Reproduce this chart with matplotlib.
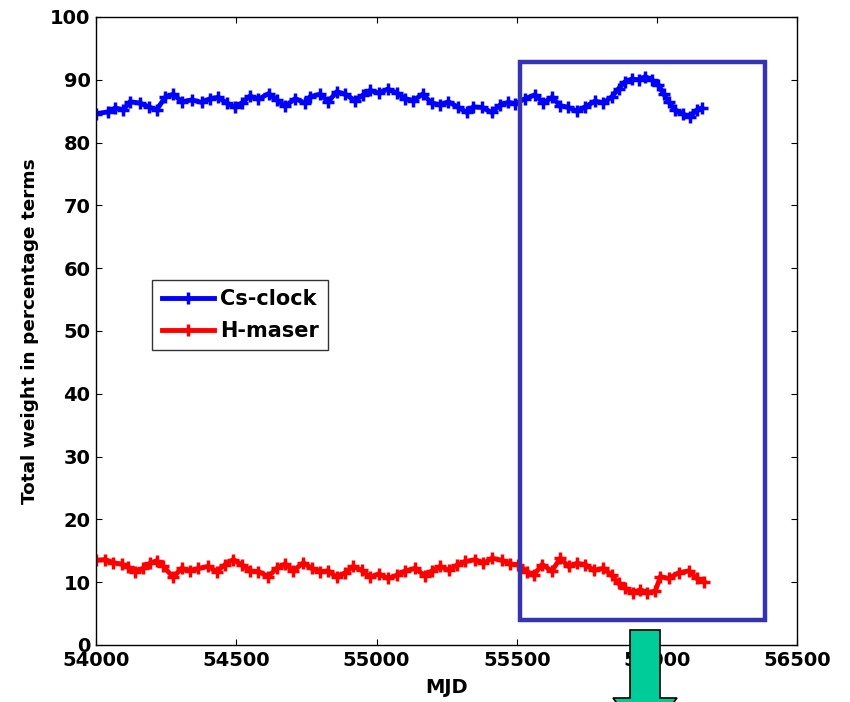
import matplotlib
matplotlib.use("Agg")
import matplotlib.pyplot as plt
from matplotlib.patches import Rectangle, Polygon

plt.rcParams['font.family'] = ['DejaVu Sans']
plt.rcParams['font.weight'] = 'bold'

# Cs-clock total weight (%) vs MJD
cs_mjd = [54000, 54044, 54068, 54097, 54121, 54157, 54187, 54216, 54246, 54276,
          54306, 54341, 54377, 54407, 54436, 54466, 54496, 54519, 54549, 54579,
          54615, 54644, 54674, 54710, 54745, 54763, 54799, 54828, 54858, 54888,
          54923, 54953, 54977, 55007, 55040, 55072, 55102, 55131, 55164, 55197,
          55227, 55256, 55292, 55322, 55345, 55375, 55411, 55441, 55470, 55494,
          55530, 55565, 55595, 55625, 55655, 55684, 55714, 55744, 55779, 55809,
          55839, 55863, 55886, 55910, 55934, 55958, 55981, 56005, 56023, 56041,
          56065, 56094, 56118, 56142, 56160]
cs_w = [84.6, 84.9, 85.5, 85.2, 86.5, 86.3, 85.7, 85.2, 87.2, 87.7,
        86.5, 86.8, 86.4, 87.0, 87.2, 86.3, 85.6, 86.3, 87.4, 86.9,
        87.8, 86.8, 85.8, 87.0, 86.3, 87.3, 87.7, 86.5, 88.1, 87.7,
        86.7, 87.6, 88.3, 87.9, 88.5, 87.9, 87.0, 86.7, 87.7, 86.3,
        86.0, 86.5, 85.6, 84.8, 85.7, 85.6, 84.8, 86.0, 86.4, 86.2,
        87.0, 87.6, 86.3, 87.2, 85.9, 85.6, 85.0, 85.7, 86.6, 86.3,
        87.3, 88.6, 89.7, 90.1, 90.0, 90.5, 90.0, 89.2, 87.8, 86.5,
        85.2, 84.5, 84.1, 85.2, 85.5]

# H-maser total weight (%) vs MJD
hm_mjd = [54000, 54032, 54061, 54091, 54115, 54139, 54168, 54192, 54216, 54240,
          54275, 54305, 54335, 54365, 54400, 54430, 54460, 54489, 54519, 54549,
          54579, 54614, 54644, 54674, 54703, 54739, 54769, 54799, 54828, 54858,
          54888, 54917, 54947, 54977, 55007, 55042, 55072, 55102, 55138, 55173,
          55197, 55227, 55257, 55286, 55316, 55352, 55381, 55411, 55447, 55477,
          55506, 55536, 55560, 55590, 55625, 55655, 55685, 55714, 55744, 55774,
          55809, 55839, 55863, 55887, 55916, 55940, 55964, 55994, 56012, 56041,
          56077, 56113, 56142, 56166]
hm_w = [13.5, 13.6, 13.1, 12.9, 12.4, 11.7, 12.2, 13.0, 13.4, 12.5,
        10.8, 12.2, 11.8, 12.2, 12.5, 11.7, 12.8, 13.6, 12.8, 11.8,
        11.7, 10.9, 12.2, 12.9, 11.8, 13.1, 12.2, 11.7, 11.8, 10.8,
        11.5, 12.5, 11.9, 10.8, 11.3, 10.6, 11.1, 11.8, 12.2, 11.0,
        11.8, 12.5, 11.9, 12.7, 13.3, 13.6, 13.0, 13.8, 13.5, 12.9,
        12.8, 11.7, 11.1, 12.8, 11.8, 13.8, 12.5, 13.0, 12.8, 11.9,
        12.2, 11.1, 9.8, 9.0, 8.3, 8.8, 8.3, 8.6, 10.9, 10.6,
        11.5, 11.8, 10.6, 10.1]

fig = plt.figure(figsize=(8.5, 7.02), dpi=100)
ax = fig.add_axes([0.113, 0.0812, 0.825, 0.8946])

ax.plot(cs_mjd, cs_w, color='#0000ff', lw=3.5, marker='+', ms=9, mew=2.5, label='Cs-clock')
ax.plot(hm_mjd, hm_w, color='#ff0000', lw=3.5, marker='+', ms=9, mew=2.5, label='H-maser')

# highlighted region
ax.add_patch(Rectangle((55512, 4.0), 874, 88.8, fill=False, edgecolor='#3333b3', lw=3.2, zorder=4))

ax.set_xlim(54000, 56500)
ax.set_ylim(0, 100)
ax.set_xticks(range(54000, 56501, 500))
ax.set_yticks(range(0, 101, 10))
ax.tick_params(direction='in', length=4, width=0.8, top=True, right=True, labelsize=14, pad=4)
for lbl in ax.get_xticklabels() + ax.get_yticklabels():
    lbl.set_fontweight('bold')
for s in ax.spines.values():
    s.set_linewidth(1.0)

ax.set_xlabel('MJD', fontsize=14, fontweight='bold', labelpad=6)
ax.set_ylabel('Total weight in percentage terms', fontsize=13.3, fontweight='bold', labelpad=8)

leg = ax.legend(loc='upper left', bbox_to_anchor=(0.08, 0.581), borderaxespad=0, fontsize=15,
                handlelength=2.5, frameon=True, fancybox=False, borderpad=0.45,
                labelspacing=0.55, handletextpad=0.3)
leg.get_frame().set_edgecolor('black')
leg.get_frame().set_linewidth(1.0)
for t in leg.get_texts():
    t.set_fontweight('bold')

# green arrow at the bottom (cut off by the figure edge)
W, H = 850.0, 702.0
pts = [(630, 630), (660, 630), (660, 698), (677, 698), (645, 740), (613, 698), (630, 698)]
arrow = Polygon([(x / W, 1 - y / H) for x, y in pts], closed=True, transform=fig.transFigure,
                facecolor='#00cc99', edgecolor='black', lw=1.2, zorder=10, clip_on=False)
fig.patches.append(arrow)

fig.savefig('out.png', dpi=100)
